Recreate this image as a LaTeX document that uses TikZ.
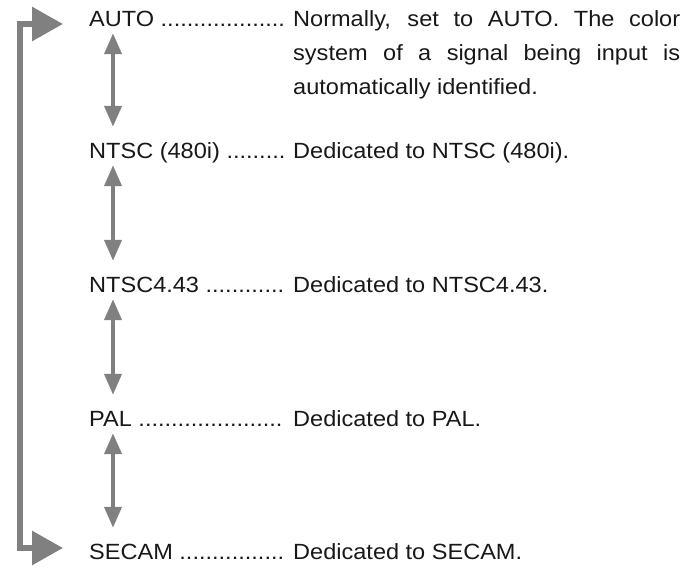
\documentclass[tikz,border=0pt]{standalone}
\usepackage{fontspec}
\setmainfont{Liberation Sans}[FakeStretch=1.07]
\usepackage{xcolor}
\usetikzlibrary{arrows.meta, positioning, calc}

\definecolor{arrowgray}{HTML}{808080}
\definecolor{inkblack}{HTML}{1A1718}

\begin{document}
\begin{tikzpicture}[x=1pt, y=-1pt,
    lbl/.style={anchor=base west, inner sep=0pt, text height=16pt, text depth=6pt,
      text=inkblack, font=\fontsize{22}{34}\selectfont},
    desc/.style={anchor=base west, inner sep=0pt, text=inkblack,
      font=\fontsize{22}{34}\selectfont},
    dblarr/.style={{Triangle[length=21pt,width=17pt]}-{Triangle[length=21pt,width=17pt]},
      line width=4pt, draw=arrowgray, shorten >=16pt},
    looparr/.style={{Triangle[length=31pt,width=33pt]}-{Triangle[length=31pt,width=33pt]},
      line width=6pt, draw=arrowgray}
  ]
  \useasboundingbox (0,0) rectangle (689,569);

  % colour system settings
  \node[lbl] (auto)  at (89,27)  {AUTO ...................};
  \node[lbl] (ntsc)  at (89,159) {NTSC (480i) .........};
  \node[lbl] (ntscf) at (89,293) {NTSC4.43 ............};
  \node[lbl] (pal)   at (89,427) {PAL ......................};
  \node[lbl] (secam) at (89,560) {SECAM ................};

  % descriptions
  \node[desc, text width=387pt, align=justify] (dauto) at (293,27)
    {Normally, set to AUTO. The color\linebreak system of a signal being input is\linebreak automatically identified.};
  \node[desc] (dntsc)  at (293,159) {Dedicated to NTSC (480i).};
  \node[desc] (dntscf) at (293,293) {Dedicated to NTSC4.43.};
  \node[desc] (dpal)   at (293,427) {Dedicated to PAL.};
  \node[desc] (dsecam) at (293,560) {Dedicated to SECAM.};

  % arrows between settings
  \coordinate (col) at (113,0);
  \draw[dblarr] (auto.south -| col)  -- (ntsc.north -| col);
  \draw[dblarr] (ntsc.south -| col)  -- (ntscf.north -| col);
  \draw[dblarr] (ntscf.south -| col) -- (pal.north -| col);
  \draw[dblarr] (pal.south -| col)   -- (secam.north -| col);

  % loop back from SECAM to AUTO
  \coordinate (looptop) at (63,24);
  \coordinate (loopbot) at (63,548);
  \coordinate (loopx) at (20,0);
  \draw[looparr] (looptop) -- (looptop -| loopx) -- (loopbot -| loopx) -- (loopbot);
\end{tikzpicture}
\end{document}
